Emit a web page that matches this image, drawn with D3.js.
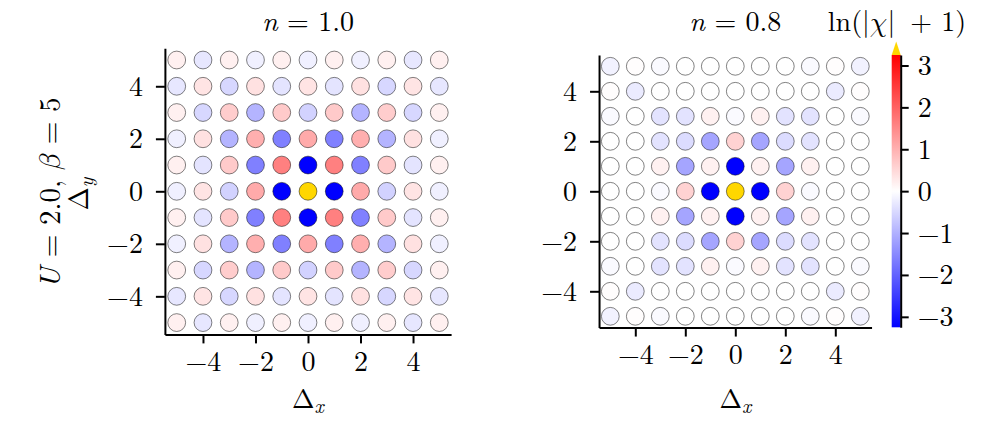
<!DOCTYPE html>
<html>
<head>
<meta charset="utf-8">
<script src="https://cdn.jsdelivr.net/npm/d3@7"></script>
<style>
  html, body { margin: 0; padding: 0; background: #fff; }
  svg { display: block; }
  text { font-family: "Latin Modern Roman", "Latin Modern Math", "DejaVu Serif", serif; fill: #000; }
  .gr { font-family: "Latin Modern Math", "STIX Two Math", "DejaVu Serif", serif; }
</style>
</head>
<body>
<svg id="chart" width="996" height="428"></svg>
<script>
// ---- data ----
const coords = [-5, -4, -3, -2, -1, 0, 1, 2, 3, 4, 5];
const rowCoords = [5, 4, 3, 2, 1, 0, -1, -2, -3, -4, -5]; // rows listed top to bottom
const axisTicks = [-4, -2, 0, 2, 4];
const colorbarTicks = [-3, -2, -1, 0, 1, 2, 3];
const colorMin = -3.25, colorMax = 3.25;

// ln(|chi|+1) signed, n = 1.0 (rows y = 5 .. -5, columns x = -5 .. 5)
const valuesN10 = [
  [ 0.19, -0.30,  0.19, -0.19,  0.19, -0.19,  0.19, -0.19,  0.19, -0.30,  0.19],
  [-0.30,  0.34, -0.51,  0.38, -0.34,  0.34, -0.34,  0.38, -0.51,  0.34, -0.30],
  [ 0.19, -0.51,  0.64, -0.96,  0.67, -0.57,  0.67, -0.96,  0.64, -0.51,  0.19],
  [-0.19,  0.38, -0.96,  1.02, -1.62,  1.08, -1.62,  1.02, -0.96,  0.38, -0.19],
  [ 0.19, -0.34,  0.67, -1.62,  1.62, -3.30,  1.62, -1.62,  0.67, -0.34,  0.19],
  [-0.19,  0.34, -0.57,  1.08, -3.30,  4.00, -3.30,  1.08, -0.57,  0.34, -0.19],
  [ 0.19, -0.34,  0.67, -1.62,  1.62, -3.30,  1.62, -1.62,  0.67, -0.34,  0.19],
  [-0.19,  0.38, -0.96,  1.02, -1.62,  1.08, -1.62,  1.02, -0.96,  0.38, -0.19],
  [ 0.19, -0.51,  0.64, -0.96,  0.67, -0.57,  0.67, -0.96,  0.64, -0.51,  0.19],
  [-0.30,  0.34, -0.51,  0.38, -0.34,  0.34, -0.34,  0.38, -0.51,  0.34, -0.30],
  [ 0.19, -0.30,  0.19, -0.19,  0.19, -0.19,  0.19, -0.19,  0.19, -0.30,  0.19]
];

// n = 0.8
const valuesN08 = [
  [-0.17,  0.03, -0.06,  0.00,  0.00,  0.00,  0.00,  0.00, -0.06,  0.03, -0.17],
  [ 0.03, -0.25,  0.00,  0.00,  0.00,  0.00,  0.00,  0.00,  0.00, -0.25,  0.03],
  [-0.06,  0.00, -0.36, -0.36,  0.18, -0.06,  0.18, -0.36, -0.36,  0.00, -0.06],
  [ 0.00,  0.00, -0.36, -0.45, -1.15,  0.57, -1.15, -0.45, -0.36,  0.00,  0.00],
  [ 0.00,  0.00,  0.18, -1.15,  0.18, -3.30,  0.18, -1.15,  0.18,  0.00,  0.00],
  [ 0.00,  0.00, -0.06,  0.57, -3.30,  4.00, -3.30,  0.57, -0.06,  0.00,  0.00],
  [ 0.00,  0.00,  0.18, -1.15,  0.18, -3.30,  0.18, -1.15,  0.18,  0.00,  0.00],
  [ 0.00,  0.00, -0.36, -0.45, -1.15,  0.57, -1.15, -0.45, -0.36,  0.00,  0.00],
  [-0.06,  0.00, -0.36, -0.36,  0.18, -0.06,  0.18, -0.36, -0.36,  0.00, -0.06],
  [ 0.03, -0.25,  0.00,  0.00,  0.00,  0.00,  0.00,  0.00,  0.00, -0.25,  0.03],
  [-0.17,  0.03, -0.06,  0.00,  0.00,  0.00,  0.00,  0.00, -0.06,  0.03, -0.17]
];

const panels = [
  { title: "1.0", values: valuesN10, xr: [164.9, 451.1], yr: [334.4, 48.2] },
  { title: "0.8", values: valuesN08, xr: [599.05, 871.55], yr: [327.55, 55.05] }
];

// ---- drawing ----
const svg = d3.select("#chart");
const FS = 28;
const FONT = '"Latin Modern Roman", "DejaVu Serif", serif';
const overColor = "#ffd700";
const cmap = d3.scaleLinear().domain([colorMin, 0, colorMax])
  .range(["#0000ff", "#ffffff", "#ff0000"]).clamp(true);
const colorOf = v => v > colorMax ? overColor : cmap(v);
const fmt = d => (d < 0 ? "\u2212" : "") + Math.abs(d);

function styleAxis(a) {
  a.attr("font-family", null).attr("font-size", null);
  a.selectAll("path.domain").attr("stroke-width", 2).attr("stroke", "#000");
  a.selectAll(".tick line").attr("stroke-width", 2).attr("stroke", "#000");
  a.selectAll("text").style("font-size", FS + "px").style("font-family", FONT);
}

panels.forEach(p => {
  const x = d3.scaleLinear().domain([-5.45, 5.45]).range(p.xr);
  const y = d3.scaleLinear().domain([-5.45, 5.45]).range(p.yr);
  const g = svg.append("g");

  const cells = [];
  p.values.forEach((row, i) => row.forEach((v, j) => cells.push({ x: coords[j], y: rowCoords[i], v })));

  g.selectAll("circle").data(cells).enter().append("circle")
    .attr("cx", d => x(d.x)).attr("cy", d => y(d.y)).attr("r", 8.9)
    .attr("fill", d => colorOf(d.v))
    .attr("stroke", "rgba(0,0,0,0.55)").attr("stroke-width", 0.9);

  const xa = g.append("g").attr("transform", `translate(0,${p.yr[0]})`)
    .call(d3.axisBottom(x).tickValues(axisTicks).tickFormat(fmt).tickSize(9).tickSizeOuter(0).tickPadding(8));
  const ya = g.append("g").attr("transform", `translate(${p.xr[0]},0)`)
    .call(d3.axisLeft(y).tickValues(axisTicks).tickFormat(fmt).tickSize(9).tickSizeOuter(0).tickPadding(13));
  styleAxis(xa); styleAxis(ya);

  const cx = (p.xr[0] + p.xr[1]) / 2;
  const t = g.append("text").attr("x", cx).attr("y", 31).attr("text-anchor", "middle")
    .style("font-size", FS + "px").attr("xml:space", "preserve");
  t.append("tspan").style("font-style", "italic").text("n");
  t.append("tspan").text(" = " + p.title);

  const xl = g.append("text").attr("x", cx).attr("y", 408).attr("text-anchor", "middle")
    .style("font-size", "27px");
  xl.append("tspan").text("Δ");
  xl.append("tspan").style("font-style", "italic").style("font-size", "20px").attr("dy", 5).text("x");
});

// y labels of the left panel
const yl = svg.append("text").attr("transform", "translate(88,194) rotate(-90)")
  .attr("text-anchor", "middle").style("font-size", FS + "px");
yl.append("tspan").text("Δ");
yl.append("tspan").style("font-style", "italic").style("font-size", "20px").attr("dy", 5).text("y");

const rl = svg.append("text").attr("transform", "translate(60,193) rotate(-90)")
  .attr("text-anchor", "middle").style("font-size", "29px");
rl.append("tspan").style("font-style", "italic").text("U");
rl.append("tspan").text(" = 2.0, ");
rl.append("tspan").attr("class", "gr").text("\u{1D6FD}");
rl.append("tspan").text(" = 5");

// ---- colorbar ----
const cbX = 891.7, cbW = 9, cbTop = 55, cbBot = 327.3;
const cbScale = d3.scaleLinear().domain([colorMin, colorMax]).range([cbBot, cbTop]);
const defs = svg.append("defs");
const grad = defs.append("linearGradient").attr("id", "bwr")
  .attr("x1", 0).attr("y1", 1).attr("x2", 0).attr("y2", 0);
[colorMin, 0, colorMax].forEach(v => {
  grad.append("stop").attr("offset", (v - colorMin) / (colorMax - colorMin)).attr("stop-color", cmap(v));
});
svg.append("rect").attr("x", cbX).attr("y", cbTop).attr("width", cbW).attr("height", cbBot - cbTop)
  .attr("fill", "url(#bwr)");
svg.append("path")
  .attr("d", `M${cbX},${cbTop} L${cbX + cbW / 2},${cbTop - 13.6} L${cbX + cbW},${cbTop} Z`)
  .attr("fill", overColor);
const cba = svg.append("g").attr("transform", `translate(${cbX + cbW},0)`)
  .call(d3.axisRight(cbScale).tickValues(colorbarTicks).tickFormat(fmt).tickSize(8).tickSizeOuter(0).tickPadding(9));
styleAxis(cba);

const cl = svg.append("text").attr("x", 897).attr("y", 31).attr("text-anchor", "middle")
  .style("font-size", FS + "px");
cl.append("tspan").text("ln(|");
cl.append("tspan").attr("class", "gr").text("\u{1D712}");
cl.append("tspan").text("|");
cl.append("tspan").attr("dx", 15).text("+ 1)");
</script>
</body>
</html>
